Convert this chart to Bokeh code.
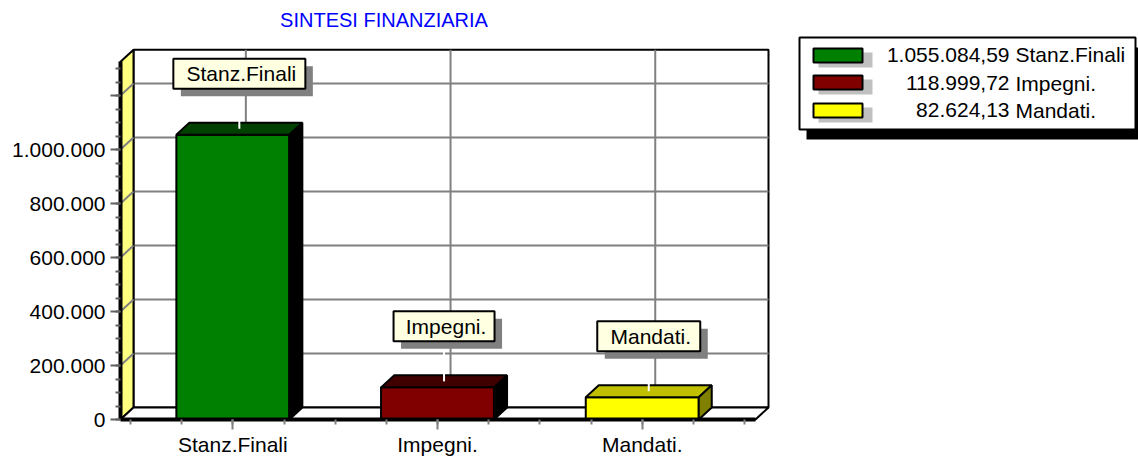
from bokeh.plotting import figure
from bokeh.models import Range1d, LinearAxis, FixedTicker, ColumnDataSource
from bokeh.embed import file_html
from bokeh.resources import INLINE
from bokeh.core.properties import value

# ---------------- data ----------------
title_text = "SINTESI FINANZIARIA"
categories = ["Stanz.Finali", "Impegni.", "Mandati."]
amounts = [1055084.59, 118999.72, 82624.13]
cat_pos = [1, 2, 3]
y_ticks = [0, 200000, 400000, 600000, 800000, 1000000, 1200000]
y_tick_labels = ["0", "200.000", "400.000", "600.000", "800.000", "1.000.000", ""]
y_minor_ticks = list(range(0, 1300001, 50000))
x_minor_ticks = [0.5 + 0.25 * k for k in range(13)]

# ---------------- styles ----------------
front_colors = ["#008000", "#800000", "#FFFF00"]
top_colors = ["#004000", "#400000", "#C0C000"]
side_colors = ["#000000", "#000000", "#808000"]
box_widths_px = [132, 101, 103]
FONT = "Liberation Sans"

W, H = 1138, 461
CAT_PX = 204.7            # pixels per category
VAL_PX = 200000 / 54.0    # value units per pixel


def px2x(px):
    return 0.5 + (px - 130) / CAT_PX


def py2y(py):
    return (419 - py) * VAL_PX


DX = 13 / CAT_PX
DY = 12 * VAL_PX
XL, XR = px2x(120), px2x(755)
YTOP = 1325000
BW = 113 / CAT_PX


def it_fmt(v):
    s = f"{v:,.2f}"
    return s.replace(",", "X").replace(".", ",").replace("X", ".")


p = figure(width=W, height=H, output_backend="svg", toolbar_location=None,
           x_axis_type=None, y_axis_type=None, min_border=0,
           x_range=Range1d(px2x(0), px2x(W)),
           y_range=Range1d(py2y(H), py2y(0)))
p.outline_line_color = None
p.background_fill_color = "white"
p.border_fill_color = "white"

# ---------------- 3D box walls ----------------
p.quad(left=[XL + DX], right=[XR + DX], bottom=[DY], top=[YTOP + DY],
       fill_color="white", line_color="black", line_width=2)
grid_vals = [t for t in y_ticks if t > 0]
p.segment(x0=[XL + DX] * len(grid_vals), y0=[v + DY for v in grid_vals],
          x1=[XR + DX] * len(grid_vals), y1=[v + DY for v in grid_vals],
          line_color="#808080", line_width=2)
p.segment(x0=[c + DX for c in cat_pos], y0=[DY] * 3,
          x1=[c + DX for c in cat_pos], y1=[YTOP + DY] * 3,
          line_color="#808080", line_width=2)
# left (yellow) wall
p.patch(x=[XL, XL + DX, XL + DX, XL], y=[0, DY, YTOP + DY, YTOP],
        fill_color="#FFFF80", line_color="black", line_width=2)
p.segment(x0=[XL] * len(grid_vals), y0=grid_vals,
          x1=[XL + DX] * len(grid_vals), y1=[v + DY for v in grid_vals],
          line_color="#808080", line_width=2)
# floor
p.patch(x=[XL, XL + DX, XR + DX, XR], y=[0, DY, DY, 0],
        fill_color="white", line_color="black", line_width=2)

# ---------------- bars ----------------
src = ColumnDataSource(dict(
    left=[c - BW / 2 for c in cat_pos], right=[c + BW / 2 for c in cat_pos],
    bottom=[0] * 3, top=amounts, color=front_colors))
p.quad(left="left", right="right", bottom="bottom", top="top", source=src,
       fill_color="color", line_color="black", line_width=2)
top_xs = [[c - BW / 2, c - BW / 2 + DX, c + BW / 2 + DX, c + BW / 2] for c in cat_pos]
top_ys = [[v, v + DY, v + DY, v] for v in amounts]
p.patches(xs=top_xs, ys=top_ys, fill_color=top_colors, line_color="black", line_width=2)
side_xs = [[c + BW / 2, c + BW / 2 + DX, c + BW / 2 + DX, c + BW / 2] for c in cat_pos]
side_ys = [[0, DY, v + DY, v] for v in amounts]
p.patches(xs=side_xs, ys=side_ys, fill_color=side_colors, line_color="black", line_width=2)

# ---------------- callout labels ----------------
box_x = [c + DX / 2 for c in cat_pos]
box_y = [v + 61 * VAL_PX for v in amounts]
p.segment(x0=box_x, y0=[v + DY / 2 for v in amounts], x1=box_x,
          y1=[v + 46 * VAL_PX for v in amounts], line_color="white", line_width=2)
p.rect(x=[x + 7.5 / CAT_PX for x in box_x], y=[y - 7.5 * VAL_PX for y in box_y],
       width=box_widths_px, height=30, width_units="screen", height_units="screen",
       fill_color="#808080", line_color=None)
p.rect(x=box_x, y=box_y, width=box_widths_px, height=30,
       width_units="screen", height_units="screen",
       fill_color="#FFFFE1", line_color="black", line_width=2)
p.text(x=[x + 2 / CAT_PX for x in box_x], y=box_y, text=categories,
       text_font=value(FONT), text_font_size="21px", text_color="black",
       text_align="center", text_baseline="middle")

# ---------------- title ----------------
p.text(x=[px2x(383.5)], y=[py2y(19)], text=[title_text], text_font=value(FONT),
       text_font_size="20px", text_color="#0000FF", text_align="center",
       text_baseline="middle")

# ---------------- legend ----------------
lg_l, lg_r, lg_t, lg_b = 799, 1135, 37, 129
p.quad(left=[px2x(lg_l + 7)], right=[px2x(lg_r + 7)], top=[py2y(lg_t + 10)],
       bottom=[py2y(lg_b + 10)], fill_color="black", line_color=None)
p.quad(left=[px2x(lg_l)], right=[px2x(lg_r)], top=[py2y(lg_t)], bottom=[py2y(lg_b)],
       fill_color="white", line_color="black", line_width=2)
row_y = [55, 82, 110]
text_row_y = [54, 82.5, 109.5]
p.quad(left=[px2x(818)] * 3, right=[px2x(872)] * 3,
       top=[py2y(r - 3) for r in row_y], bottom=[py2y(r + 12) for r in row_y],
       fill_color="#C0C0C0", line_color=None)
p.quad(left=[px2x(813)] * 3, right=[px2x(862)] * 3,
       top=[py2y(r - 7) for r in row_y], bottom=[py2y(r + 7) for r in row_y],
       fill_color=front_colors, line_color="black", line_width=2)
p.text(x=[px2x(1009)] * 3, y=[py2y(r) for r in text_row_y],
       text=[it_fmt(a) for a in amounts],
       text_font=value(FONT), text_font_size="21px", text_color="black",
       text_align="right", text_baseline="middle")
p.text(x=[px2x(1015)] * 3, y=[py2y(r) for r in text_row_y], text=categories,
       text_font=value(FONT), text_font_size="21px", text_color="black",
       text_align="left", text_baseline="middle")

# ---------------- axes ----------------
yaxis = LinearAxis(fixed_location=XL, bounds=(0, YTOP),
                   ticker=FixedTicker(ticks=y_ticks, minor_ticks=y_minor_ticks))
yaxis.major_label_overrides = {t: l for t, l in zip(y_ticks, y_tick_labels)}
yaxis.axis_line_width = 4
yaxis.axis_line_color = "black"
yaxis.major_tick_out = 10
yaxis.major_tick_in = 0
yaxis.minor_tick_out = 5
yaxis.minor_tick_in = 0
yaxis.major_tick_line_color = "#606060"
yaxis.minor_tick_line_color = "#606060"
yaxis.major_tick_line_width = 2
yaxis.minor_tick_line_width = 2
yaxis.major_label_standoff = 5
yaxis.major_label_text_font = FONT
yaxis.major_label_text_font_size = "21px"
yaxis.major_label_text_color = "black"
p.add_layout(yaxis, "left")

xaxis = LinearAxis(fixed_location=0, bounds=(XL, XR),
                   ticker=FixedTicker(ticks=cat_pos, minor_ticks=x_minor_ticks))
xaxis.major_label_overrides = {c: n for c, n in zip(cat_pos, categories)}
xaxis.axis_line_width = 4
xaxis.axis_line_color = "black"
xaxis.major_tick_out = 10
xaxis.major_tick_in = 0
xaxis.minor_tick_out = 5
xaxis.minor_tick_in = 0
xaxis.major_tick_line_color = "#808080"
xaxis.minor_tick_line_color = "#808080"
xaxis.major_tick_line_width = 2
xaxis.minor_tick_line_width = 2
xaxis.major_label_standoff = 3
xaxis.major_label_text_font = FONT
xaxis.major_label_text_font_size = "21px"
xaxis.major_label_text_color = "black"
p.add_layout(xaxis, "below")

open("out.html", "w").write(file_html(p, INLINE))
